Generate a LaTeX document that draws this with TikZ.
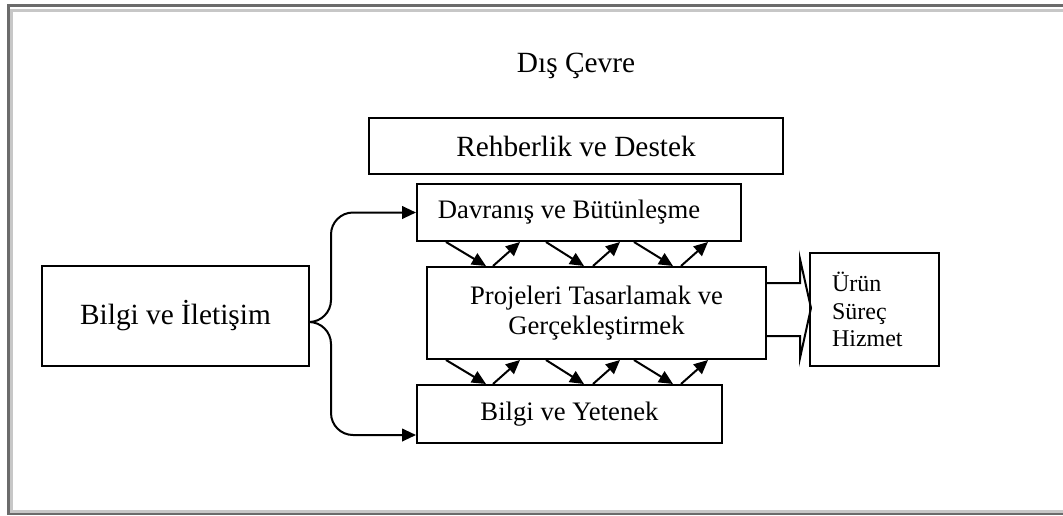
\documentclass[tikz,border=0pt]{standalone}
\usepackage{fontspec}
\setmainfont{Liberation Serif}
\usepackage{tikz}
\usetikzlibrary{arrows.meta}

\newcommand\bigtxt{\fontsize{22}{26}\selectfont}
\newcommand\medtxt{\fontsize{20}{22.5}\selectfont}
\newcommand\smalltxt{\fontsize{18}{20.5}\selectfont}

\begin{document}
\begin{tikzpicture}[x=0.75pt,y=-0.75pt,inner sep=0pt,
  kutu/.style={draw=black,line width=1.5pt,font=\medtxt},
  ok/.style={-{Triangle[length=10.5pt,width=9.5pt]},line width=1.5pt},
  rimdark/.style={line width=2.25pt,color=black!58},
  rimlight/.style={line width=2pt,color=black!22}]
\useasboundingbox (0,0) rectangle (1063,515);
\draw[rimdark] (1063,5.8) -- (8.7,5.8) -- (8.7,513.3) -- (1063,513.3);
\draw[rimlight] (1063,10.7) -- (11.5,10.7) -- (11.5,511.3) -- (1063,511.3);

\node[anchor=base,font=\bigtxt] (cevre) at (576,72) {Dış Çevre};
\node[kutu,font=\bigtxt,minimum width=310.5pt,minimum height=42pt] (rehber) at (576,146) {Rehberlik ve Destek};
\node[kutu,minimum width=243pt,minimum height=42.75pt] (davranis) at (579,212.5) {\hspace*{-15pt}Davranış ve Bütünleşme};
\node[kutu,minimum width=254.25pt,minimum height=69pt,align=center] (proje) at (596.5,313) {Projeleri Tasarlamak ve\\Gerçekleştirmek};
\node[kutu,minimum width=228.75pt,minimum height=43.5pt] (yetenek) at (569.5,414) {Bilgi ve Yetenek};
\node[kutu,font=\bigtxt,minimum width=200.25pt,minimum height=75pt] (iletisim) at (175.5,316) {Bilgi ve İletişim};
\node[kutu,font=\smalltxt,text width=63.75pt,inner xsep=16.5pt,minimum height=84.75pt,align=left] (urun) at (874.5,309.5) {Ürün\\Süreç\\Hizmet};

% brace
\coordinate (uc) at ([yshift=-4.5pt]iletisim.east);
\coordinate (alt) at ([yshift=-15.75pt]yetenek.west);
\draw[ok,rounded corners=16.5pt] (uc) -| ([xshift=-63.75pt]davranis.west) -- (davranis.west);
\draw[ok,rounded corners=16.5pt] (uc) -| ([xshift=-63.75pt]alt) -- (alt);

\foreach \a/\b/\c/\d in {446/486/493/520,546/584/593/620,634/673/681/708}{
  \path (davranis.south -| \a,0) edge[ok] (proje.north -| \b,0)
        (proje.north -| \c,0) edge[ok] (davranis.south -| \d,0)
        (proje.south -| \a,0) edge[ok] (yetenek.north -| \b,0)
        (yetenek.north -| \c,0) edge[ok] (proje.south -| \d,0);
}

% output arrow
\draw[line width=1.5pt] (proje.east) ++(0,-30) -- ++(33,0) -- ++(0,-24) -- ++(11,49) -- ++(-11,50) -- ++(0,-22) -- ++(-33,0);
\end{tikzpicture}
\end{document}
